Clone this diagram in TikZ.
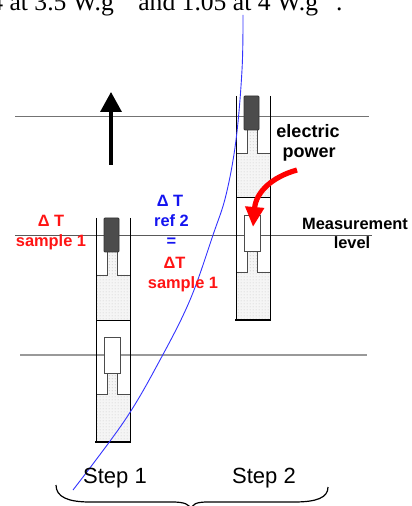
\documentclass[tikz,border=0pt]{standalone}
\usepackage{fontspec}
\setmainfont{Liberation Serif}
\setsansfont{Liberation Sans}
\usetikzlibrary{arrows.meta,patterns.meta}
\tikzdeclarepattern{
  name=finedots,
  type=uncolored,
  bounding box={(0,0) and (1.5pt,1.5pt)},
  tile size={(1.5pt,1.5pt)},
  code={\fill (0.75pt,0.75pt) circle (0.22pt);}
}
\definecolor{redlbl}{RGB}{255,20,20}
\definecolor{bluelbl}{RGB}{20,20,240}
\newcommand{\persup}{\raisebox{0.6em}{\fontsize{8.5}{9}\selectfont −1}}
\tikzset{
  lbl/.style={font=\sffamily\bfseries\fontsize{8.2}{10}\selectfont,inner sep=0pt,anchor=base},
  steplbl/.style={font=\sffamily\fontsize{11}{13}\selectfont,inner sep=0pt,anchor=base},
  dotfill/.style={fill=black!4,postaction={pattern=finedots,pattern color=black!45}},
  levelline/.style={black!55,line width=0.4pt},
  tube/.pic={
    \path[dotfill] (11.5,34) rectangle (21,58);
    \path[dotfill] (0,57) rectangle (34,102);
    \path[dotfill] (11.5,155) rectangle (21,177);
    \path[dotfill] (0,176) rectangle (34,224);
    \draw[black!70] (11.5,34)--(11.5,57)--(0,57);
    \draw[black!70] (21,34)--(21,57)--(34,57);
    \draw[black!70] (11.5,155)--(11.5,176)--(0,176);
    \draw[black!70] (21,155)--(21,176)--(34,176);
    \draw[black,line width=0.5pt] (0,102)--(34,102);
    \draw[black!80,fill=black!70,rounded corners=0.5pt] (8,0) rectangle (23,34);
    \draw[black!70,fill=white] (8.5,119) rectangle (24,155);
    \draw[black,line width=0.5pt] (0,0)--(0,224);
    \draw[black,line width=0.5pt] (34,0)--(34,224);
    \draw[black,line width=1pt] (-1,224)--(35,224);
  }
}
\begin{document}
\begin{tikzpicture}[x=0.5pt,y=-0.5pt]
  \useasboundingbox (0,0) rectangle (411,506);
  % caption line cut at the top
  \node (caption) at (-10,10.5)[anchor=base west,inner sep=0pt,font=\fontsize{12.8}{14}\selectfont]{4 at 3.5 W.g\persup{} and 1.05 at 4 W.g\persup.};
  % levels
  \draw[levelline] (15,116)--(369,116);
  \draw[black!65,line width=0.4pt] (15,235)--(372,235);
  \draw[black!40,line width=1pt] (20,355)--(367,355);
  % tubes
  \pic at (96,218) {tube};
  \pic at (236,96) {tube};
  % blue curve
  \draw[blue!80,line width=0.45pt] plot[smooth,tension=0.6] coordinates {(243,15) (242,70) (236,140) (226,195) (213,235) (190,300) (160,360) (125,420) (73,490)};
  % up arrow
  \coordinate (upfoot) at (111,165);
  \coordinate (uptip) at (111,92);
  \draw[line width=1.7pt,-{Triangle[length=10pt,width=10.5pt]}] (upfoot)--(uptip);
  % red arrow
  \coordinate (powerfoot) at (297,170);
  \coordinate (powertip) at (253,227);
  \draw[red,line width=2.6pt,-{Triangle[length=10pt,width=9pt]}] (powerfoot) .. controls (272,177) and (256,192) .. (powertip);
  % labels
  \node (dTleft) at (51,226.5)[lbl,redlbl]{Δ T};
  \node (sampleleft) at (51,246.5)[lbl,redlbl]{sample 1};
  \node (dTref) at (170,206.5)[lbl,bluelbl]{Δ T};
  \node (refII) at (171.5,226.5)[lbl,bluelbl]{ref 2};
  \node (equal) at (171.5,246.5)[lbl,bluelbl]{=};
  \node (dTmid) at (174.5,268.5)[lbl,redlbl]{ΔT};
  \node (samplemid) at (183,288.5)[lbl,redlbl]{sample 1};
  \node (electric) at (308,138)[lbl,font=\sffamily\bfseries\fontsize{9}{11}\selectfont]{electric};
  \node (power) at (309,157.5)[lbl,font=\sffamily\bfseries\fontsize{9}{11}\selectfont]{power};
  \node (meas) at (355,229.5)[lbl]{Measurement};
  \node (level) at (352,249)[lbl]{level};
  \node (stepI) at (115,483)[steplbl]{Step 1};
  \node (stepII) at (264,483)[steplbl]{Step 2};
  % brace
  \draw[line width=0.6pt] (56,485) .. controls (56,497) and (68,502) .. (90,502) -- (172,502) .. controls (184,502) and (190,504) .. (191,510);
  \draw[line width=0.6pt] (328,487) .. controls (328,498) and (316,502) .. (294,502) -- (208,502) .. controls (196,502) and (192,504) .. (191,510);
\end{tikzpicture}
\end{document}
